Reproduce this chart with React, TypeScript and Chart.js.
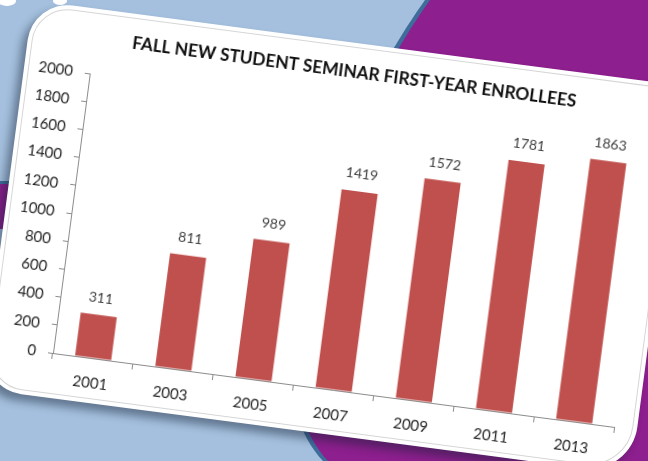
import React, { useEffect, useRef } from "react";
import { Chart, registerables } from "chart.js";

Chart.register(...registerables);

const categories = ["2001", "2003", "2005", "2007", "2009", "2011", "2013"];
const enrollees = [311, 811, 989, 1419, 1572, 1781, 1863];
const yMin = 0;
const yMax = 2000;
const yStep = 200;
const chartTitle = "FALL NEW STUDENT SEMINAR FIRST-YEAR ENROLLEES";

const FONT = "Lato, 'Open Sans', sans-serif";

const valueLabels = {
  id: "valueLabels",
  afterDatasetsDraw(chart: any) {
    const ctx = chart.ctx;
    const meta = chart.getDatasetMeta(0);
    const values = chart.data.datasets[0].data;
    ctx.save();
    ctx.font = `14px ${FONT}`;
    ctx.fillStyle = "#404040";
    ctx.textAlign = "center";
    ctx.textBaseline = "middle";
    meta.data.forEach((bar: any, i: number) => {
      ctx.fillText(String(values[i]), bar.x, bar.y - 17);
    });
    ctx.restore();
  },
};

const titleText = {
  id: "titleText",
  afterDraw(chart: any) {
    const ctx = chart.ctx;
    const area = chart.chartArea;
    ctx.save();
    ctx.font = `bold 17.3px ${FONT}`;
    ctx.fillStyle = "#111111";
    ctx.textAlign = "center";
    ctx.textBaseline = "middle";
    ctx.fillText(chartTitle, area.left + 262, area.top - 36);
    ctx.restore();
  },
};

function BarChart() {
  const ref = useRef<HTMLCanvasElement | null>(null);
  useEffect(() => {
    if (!ref.current) return;
    const chart = new Chart(ref.current, {
      type: "bar",
      data: {
        labels: categories,
        datasets: [
          {
            data: enrollees,
            backgroundColor: "#c0504d",
            borderWidth: 0,
            categoryPercentage: 1,
            barPercentage: 0.45,
          },
        ],
      },
      options: {
        animation: false,
        responsive: false,
        maintainAspectRatio: false,
        layout: { padding: { top: 65, right: 23, bottom: 0, left: 0 } },
        plugins: {
          legend: { display: false },
          tooltip: { enabled: false },
          title: { display: false },
        },
        scales: {
          x: {
            afterFit: (s: any) => {
              s.height = 45;
            },
            grid: {
              display: true,
              drawOnChartArea: false,
              drawTicks: true,
              tickLength: 6,
              color: "#8c8c8c",
              offset: true,
            },
            border: { display: true, color: "#8c8c8c", width: 1 },
            ticks: {
              color: "#262626",
              font: { family: FONT, size: 15 },
              padding: 10,
              maxRotation: 0,
            },
          },
          y: {
            min: yMin,
            max: yMax,
            afterFit: (s: any) => {
              s.width = 66;
            },
            grid: {
              display: true,
              drawOnChartArea: false,
              drawTicks: true,
              tickLength: 5,
              color: "#8c8c8c",
            },
            border: { display: true, color: "#8c8c8c", width: 1 },
            ticks: {
              stepSize: yStep,
              color: "#262626",
              font: { family: FONT, size: 15 },
              padding: 12,
              callback: (v: any) => String(v),
            },
          },
        },
      },
      plugins: [valueLabels, titleText],
    });
    return () => chart.destroy();
  }, []);
  return <canvas ref={ref} width={655} height={392} style={{ display: "block" }} />;
}

export default function App() {
  return (
    <div
      style={{
        position: "fixed",
        left: 0,
        top: 0,
        width: 648,
        height: 461,
        overflow: "hidden",
        background: "#a4c0de",
      }}
    >
      <svg width={648} height={461} style={{ position: "absolute", left: 0, top: 0 }}>
        <path
          d="M 425 0 C 400 35, 325 150, 295 300 C 287 360, 285 420, 323 461 L 648 461 L 648 0 Z"
          fill="#3e6d9c"
        />
        <path
          d="M 430 0 C 405 35, 330 150, 300 300 C 292 360, 290 420, 328 461 L 648 461 L 648 0 Z"
          fill="#8d1f8e"
        />
        <rect x={0} y={181} width={40} height={4} fill="#3e6d9c" />
        <rect x={0} y={184} width={40} height={45} fill="#8d1f8e" />
        <ellipse cx={7} cy={1} rx={9} ry={5} fill="#ffffff" />
        <ellipse cx={60} cy={1} rx={7} ry={4} fill="#ffffff" />
      </svg>
      <div
        style={{
          position: "absolute",
          left: -13,
          top: 6,
          width: 655,
          height: 392,
          transformOrigin: "66px 347px",
          transform: "rotate(7.5deg)",
          background: "#ffffff",
          borderRadius: "40px 30px 48px 40px",
          boxShadow: "-5px 7px 9px rgba(20,30,50,0.45)",
          overflow: "hidden",
        }}
      >
        <div
          style={{
            position: "absolute",
            left: 4,
            top: 4,
            right: 4,
            bottom: 4,
            border: "1px solid #d6d6d6",
            borderRadius: "36px 26px 44px 36px",
          }}
        />
        <div style={{ position: "absolute", left: 0, top: 0 }}>
          <BarChart />
        </div>
      </div>
    </div>
  );
}
